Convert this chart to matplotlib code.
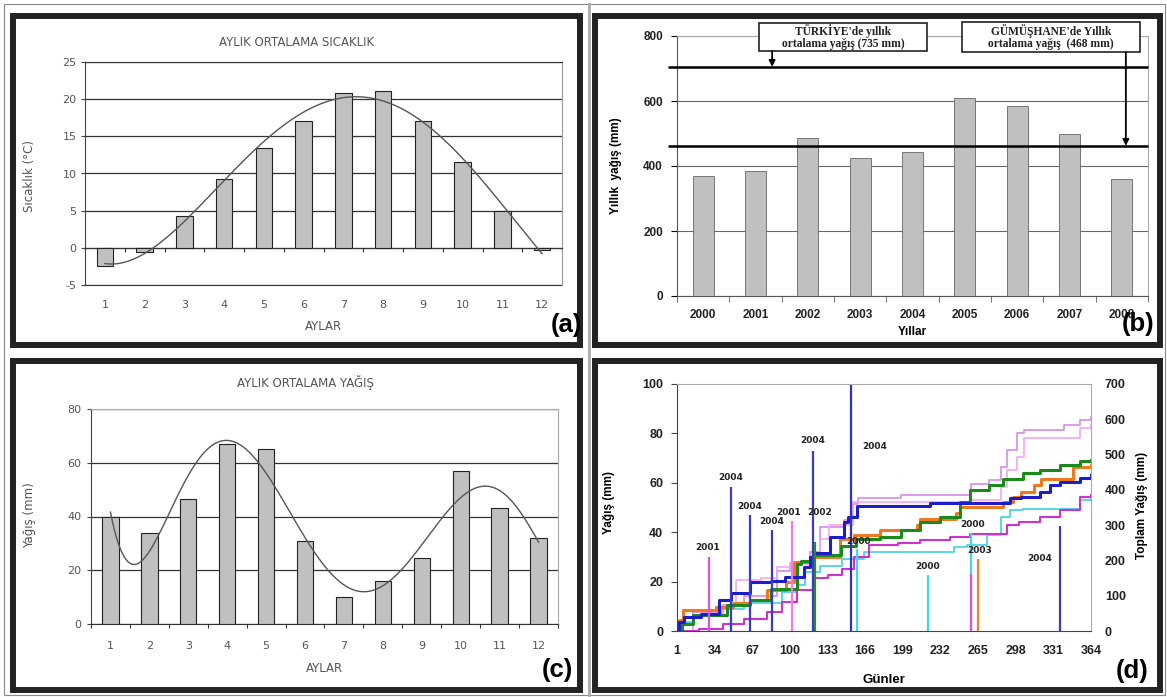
import numpy as np
import matplotlib
matplotlib.use('Agg')
import matplotlib.pyplot as plt
from matplotlib.patches import Rectangle
from matplotlib import transforms

plt.rcParams['axes.unicode_minus'] = False

W, H = 1167, 697

# (a) aylık ortalama sıcaklık
aylar = list(range(1, 13))
sicaklik = [-2.4, -0.6, 4.3, 9.2, 13.4, 17.1, 20.8, 21.1, 17.0, 11.6, 5.0, -0.3]

# (b) yıllık yağış
yillar = ['2000', '2001', '2002', '2003', '2004', '2005', '2006', '2007', '2008']
yillik_yagis = [368, 385, 487, 426, 443, 609, 586, 498, 361]
turkiye_cizgi = 705
gumushane_cizgi = 462

# (c) aylık ortalama yağış
aylik_yagis = [40, 34, 46.5, 67, 65, 31, 10, 16, 24.5, 57, 43, 32]

# (d) günlük maksimum yağışlar (sol eksen) ve toplam yağış (sağ eksen)
gun_ticks = [1, 34, 67, 100, 133, 166, 199, 232, 265, 298, 331, 364]
spike_gun = [29, 48, 65, 84, 102, 120, 122, 154, 159, 221, 259, 259, 265, 337]
spike_mm = [30, 58.5, 47, 41, 44.5, 73, 36, 100, 33, 22.5, 39.5, 23, 29, 42.5]
spike_renk = ['#e050e0', '#3a3ac8', '#3a3ac8', '#3a3ac8', '#f07cf0', '#3a3ac8', '#2a8a2a',
              '#3030c8', '#40d8e8', '#40d8e8', '#40d8e8', '#e050e0', '#f08030', '#3a3ac8']
etiket_gun = [28, 48, 65, 84, 99, 126, 120, 174, 160, 221, 260, 266, 319]
etiket_mm = [33.7, 62, 50.3, 44.5, 47.9, 47.9, 77, 74.5, 36.1, 26.2, 43.2, 32.7, 29.3]
etiket_yil = ['2001', '2004', '2004', '2004', '2001', '2002', '2004', '2004', '2000', '2000',
              '2000', '2003', '2004']

mavi_gun = [1, 3, 7, 22, 38, 48, 65, 83, 96, 112, 118, 121, 135, 147, 151, 159, 223, 293, 303,
            319, 328, 337, 354, 364]
mavi_mm = [0, 25, 40, 49, 87, 108, 138, 141, 153, 182, 210, 221, 267, 309, 323, 354, 363, 376,
           380, 394, 413, 423, 435, 442]
yesil_gun = [1, 5, 15, 45, 65, 83, 106, 110, 120, 145, 158, 179, 197, 214, 232, 249, 258, 275,
             287, 304, 319, 337, 354, 364]
yesil_mm = [0, 20, 45, 73, 87, 120, 191, 199, 215, 240, 262, 267, 286, 309, 323, 366, 399, 413,
            432, 447, 456, 470, 482, 486]
turuncu_gun = [1, 3, 6, 35, 50, 65, 80, 97, 104, 118, 144, 156, 179, 211, 214, 246, 249, 287,
               296, 303, 314, 320, 348, 364]
turuncu_mm = [0, 30, 59, 68, 78, 88, 115, 139, 196, 210, 262, 272, 286, 300, 316, 333, 351, 366,
              380, 394, 413, 432, 465, 470]
mor_gun = [1, 20, 41, 60, 80, 93, 106, 120, 133, 146, 156, 169, 195, 214, 240, 258, 290, 301,
           319, 337, 354, 364]
mor_mm = [0, 7, 21, 35, 54, 82, 116, 149, 158, 177, 210, 243, 248, 257, 267, 276, 300, 309, 323,
          342, 380, 385]
cyan_gun = [1, 5, 15, 40, 60, 93, 106, 113, 126, 146, 165, 244, 255, 273, 285, 293, 304, 354, 364]
cyan_mm = [0, 25, 45, 63, 80, 110, 130, 168, 185, 205, 224, 238, 243, 272, 323, 342, 347, 371, 375]
eflatun_gun = [1, 15, 41, 60, 89, 100, 118, 126, 147, 155, 160, 197, 259, 275, 285, 290, 299,
               305, 340, 354, 364]
eflatun_mm = [0, 54, 73, 100, 170, 193, 224, 295, 314, 361, 376, 385, 418, 428, 465, 513, 560,
              570, 585, 598, 607]
pembe_gun = [1, 15, 41, 53, 75, 89, 100, 118, 126, 134, 155, 259, 285, 290, 299, 305, 354, 364]
pembe_mm = [0, 45, 70, 144, 150, 182, 190, 210, 260, 300, 366, 370, 409, 456, 494, 547, 575, 584]

fig = plt.figure(figsize=(W / 100, H / 100), dpi=100)


def px_axes(l, t, r, b):
    return fig.add_axes([l / W, 1 - b / H, (r - l) / W, (b - t) / H])


def px_text(x, y, s, **kw):
    fig.text(x / W, 1 - y / H, s, **kw)


def cerceve(x0, y0, x1, y1, lw, color):
    fig.add_artist(Rectangle((x0 / W, 1 - y1 / H), (x1 - x0) / W, (y1 - y0) / H,
                             transform=fig.transFigure, fill=False, lw=lw, ec=color))


GRI = '#555555'
SANS = 'DejaVu Sans'
ARIAL = 'Liberation Sans'

# dış çerçeveler
cerceve(3.5, 3.5, 1164.5, 694.5, 0.8, '#888888')
fig.add_artist(plt.Line2D([588.5 / W, 588.5 / W], [1 - 3.5 / H, 1 - 694.5 / H],
                          transform=fig.transFigure, lw=2, color='#aaaaaa'))
for (x0, y0, x1, y1) in [(13, 16, 580, 345), (595, 16, 1160, 345),
                         (13, 361, 580, 690), (595, 361, 1160, 690)]:
    cerceve(x0, y0, x1, y1, 4.3, '#222222')

# ---------- (a) ----------
ax = px_axes(85, 62, 562, 285)
ax.bar(aylar, sicaklik, width=0.42, color='#c0c0c0', edgecolor='#222222', lw=0.8, zorder=3)
coef = np.polyfit(aylar, sicaklik, 4)
xs = np.linspace(1, 12, 200)
ax.plot(xs, np.polyval(coef, xs), color='#555555', lw=1, zorder=4)
ax.set_xlim(0.5, 12.5)
ax.set_ylim(-5, 25)
ax.set_yticks(range(-5, 26, 5))
ax.yaxis.grid(True, color='#333333', lw=0.9)
ax.set_axisbelow(True)
ax.spines['bottom'].set_position(('data', 0))
ax.spines['bottom'].set_color('#333333')
ax.spines['top'].set_color('#333333')
ax.spines['right'].set_color('#999999')
ax.spines['left'].set_color('#444444')
ax.set_xticks(np.arange(0.5, 13, 1))
ax.tick_params(axis='x', length=3, color='#333333', labelbottom=False)
ax.tick_params(axis='y', length=3, color='#444444', labelsize=8, labelcolor=GRI, pad=3)
for t in ax.get_yticklabels():
    t.set_family(SANS)
sec = ax.secondary_xaxis('bottom')
sec.set_xticks(aylar)
sec.set_xticklabels([str(m) for m in aylar], family=SANS)
sec.tick_params(length=0, labelsize=8, labelcolor=GRI, pad=11)
sec.spines['bottom'].set_color('#333333')
sec.set_xlabel('AYLAR', family=SANS, fontsize=8.5, color=GRI, labelpad=7)
ax.set_ylabel('Sıcaklık (°C)', family=SANS, fontsize=8.5, color=GRI)
ax.yaxis.set_label_coords(-0.103, 0.49)
px_text(297, 42, 'AYLIK ORTALAMA SICAKLIK', family=SANS, fontsize=8.5, color=GRI,
        ha='center', va='center')
px_text(566, 325, '(a)', family=ARIAL, fontsize=18.5, weight='bold', ha='center', va='center')

# ---------- (b) ----------
ax = px_axes(677, 36, 1148, 296)
xb = np.arange(len(yillar))
ax.bar(xb, yillik_yagis, width=0.4, color='#c0c0c0', edgecolor='#666666', lw=0.6, zorder=3)
ax.set_xlim(-0.5, 8.5)
ax.set_ylim(0, 800)
ax.set_yticks(range(0, 801, 200))
ax.yaxis.grid(True, color='#666666', lw=0.8)
ax.set_axisbelow(True)
for s in ['top', 'right']:
    ax.spines[s].set_color('#aaaaaa')
ax.spines['left'].set_color('#555555')
ax.spines['bottom'].set_color('#555555')
ax.set_xticks(xb)
ax.set_xticklabels(yillar, family=ARIAL, weight='bold')
ax.set_xticks(np.arange(-0.5, 9, 1), minor=True)
ax.tick_params(axis='x', which='major', length=0, labelsize=8.5, pad=9, labelcolor='#222222')
ax.tick_params(axis='x', which='minor', length=4, color='#555555')
ax.tick_params(axis='y', length=4, labelsize=8.5, labelcolor='#222222', pad=6)
for t in ax.get_yticklabels():
    t.set_family(ARIAL)
    t.set_weight('bold')
ax.hlines([turkiye_cizgi, gumushane_cizgi], xmin=-0.67, xmax=8.5, colors='black', lw=1.8,
          clip_on=False, zorder=5)
ax.set_xlabel('Yıllar', family=ARIAL, weight='bold', fontsize=8.5, labelpad=4)
ax.set_ylabel('Yıllık  yağış (mm)', family=ARIAL, weight='bold', fontsize=8.5)
ax.yaxis.set_label_coords(-0.117, 0.5)
kutular = [((0.174, 0.942), 0.357, 0.108, "TÜRKİYE'de yıllık\nortalama yağış (735 mm)",
            0.202, 0.942, turkiye_cizgi),
           ((0.605, 0.938), 0.378, 0.116, "GÜMÜŞHANE'de Yıllık\nortalama yağış  (468 mm)",
            0.953, 0.938, gumushane_cizgi)]
bt = transforms.blended_transform_factory(ax.transAxes, ax.transData)
for (x0, y0), w, h, txt, ox, oy, hedef in kutular:
    ax.add_patch(Rectangle((x0, y0), w, h, transform=ax.transAxes, fill=True, fc='white',
                           ec='#222222', lw=1.2, clip_on=False, zorder=6))
    ax.text(x0 + w / 2, y0 + h / 2, txt, transform=ax.transAxes, ha='center', va='center',
            family='Liberation Serif', weight='bold', fontsize=8.3, linespacing=1.1,
            color='#222222', zorder=7)
    ax.annotate('', xy=(ox, hedef), xycoords=bt,
                xytext=(ox, oy), textcoords='axes fraction',
                arrowprops=dict(arrowstyle='-|>', color='black', lw=1.3,
                                mutation_scale=9, shrinkA=0, shrinkB=0),
                zorder=6, annotation_clip=False)
px_text(1138, 324, '(b)', family=ARIAL, fontsize=18.5, weight='bold', ha='center', va='center')

# ---------- (c) ----------
ax = px_axes(91, 409, 558, 624)
ax.bar(aylar, aylik_yagis, width=0.42, color='#c0c0c0', edgecolor='#222222', lw=0.8, zorder=3)
coef = np.polyfit(aylar, aylik_yagis, 6)
ax.plot(xs, np.polyval(coef, xs), color='#555555', lw=1, zorder=4)
ax.set_xlim(0.5, 12.5)
ax.set_ylim(0, 80)
ax.set_yticks(range(0, 81, 20))
ax.yaxis.grid(True, color='#333333', lw=0.9)
ax.set_axisbelow(True)
ax.spines['bottom'].set_color('#333333')
ax.spines['top'].set_color('#aaaaaa')
ax.spines['right'].set_color('#aaaaaa')
ax.spines['left'].set_color('#444444')
ax.set_xticks(np.arange(0.5, 13, 1))
ax.set_xticks(aylar, minor=True)
ax.set_xticklabels([str(m) for m in aylar], minor=True, family=SANS)
ax.tick_params(axis='x', which='major', length=3, color='#333333', labelbottom=False)
ax.tick_params(axis='x', which='minor', length=0, labelsize=8, labelcolor=GRI, pad=12)
ax.tick_params(axis='y', length=3, color='#444444', labelsize=8, labelcolor=GRI, pad=4)
for t in ax.get_yticklabels():
    t.set_family(SANS)
ax.set_xlabel('AYLAR', family=SANS, fontsize=8.5, color=GRI, labelpad=8)
ax.set_ylabel('Yağış (mm)', family=SANS, fontsize=8.5, color=GRI)
ax.yaxis.set_label_coords(-0.118, 0.507)
px_text(305, 383, 'AYLIK ORTALAMA YAĞIŞ', family=SANS, fontsize=8.5, color=GRI,
        ha='center', va='center')
px_text(557, 670, '(c)', family=ARIAL, fontsize=18.5, weight='bold', ha='center', va='center')

# ---------- (d) ----------
ax = px_axes(677, 384, 1091, 631)
ax2 = ax.twinx()
egriler = [(eflatun_gun, eflatun_mm, '#d68ae8', 1.2), (pembe_gun, pembe_mm, '#f4a6f0', 1.2),
           (cyan_gun, cyan_mm, '#40d0e0', 1.2), (mor_gun, mor_mm, '#cc33cc', 1.5),
           (turuncu_gun, turuncu_mm, '#f07820', 2.2), (yesil_gun, yesil_mm, '#1a8a1a', 2.2),
           (mavi_gun, mavi_mm, '#1e1ec8', 2.2)]
for g, v, c, lw in egriler:
    ax2.plot(g, v, drawstyle='steps-post', color=c, lw=lw)
ax2.set_ylim(0, 700)
ax2.set_yticks(range(0, 701, 100))
ax.set_zorder(ax2.get_zorder() + 1)
ax.patch.set_visible(False)
ax.vlines(spike_gun, 0, spike_mm, colors=spike_renk, lw=1.6)
for g, v, s in zip(etiket_gun, etiket_mm, etiket_yil):
    ax.text(g, v, s, ha='center', va='center', family=SANS, weight='bold', fontsize=6.5,
            color='#222222')
ax.set_xlim(1, 364)
ax.set_ylim(0, 100)
ax.set_xticks(gun_ticks)
ax.set_yticks(range(0, 101, 20))
for a in (ax, ax2):
    for s in a.spines.values():
        s.set_visible(False)
for s in ['left', 'bottom', 'top', 'right']:
    ax.spines[s].set_visible(True)
ax.spines['left'].set_color('#444444')
ax.spines['bottom'].set_color('#444444')
ax.spines['top'].set_color('#aaaaaa')
ax.spines['right'].set_color('#aaaaaa')
ax.tick_params(axis='x', length=0, labelsize=9, labelcolor='#222222', pad=10)
ax.tick_params(axis='y', length=4, color='#444444', labelsize=9, labelcolor='#222222', pad=6)
ax2.tick_params(axis='y', length=0, labelsize=9, labelcolor='#222222', pad=10)
for t in ax.get_xticklabels() + ax.get_yticklabels() + ax2.get_yticklabels():
    t.set_family(ARIAL)
    t.set_weight('bold')
ax.set_xlabel('Günler', family=ARIAL, weight='bold', fontsize=9.5, labelpad=12)
ax.set_ylabel('Yağış (mm)', family=ARIAL, weight='bold', fontsize=8.5)
ax.yaxis.set_label_coords(-0.15, 0.52)
ax2.set_ylabel('Toplam Yağış (mm)', family=ARIAL, weight='bold', fontsize=8.5)
ax2.yaxis.set_label_coords(1.109, 0.51)
px_text(1132, 671, '(d)', family=ARIAL, fontsize=18.5, weight='bold', ha='center', va='center')

fig.savefig('out.png', dpi=100)
